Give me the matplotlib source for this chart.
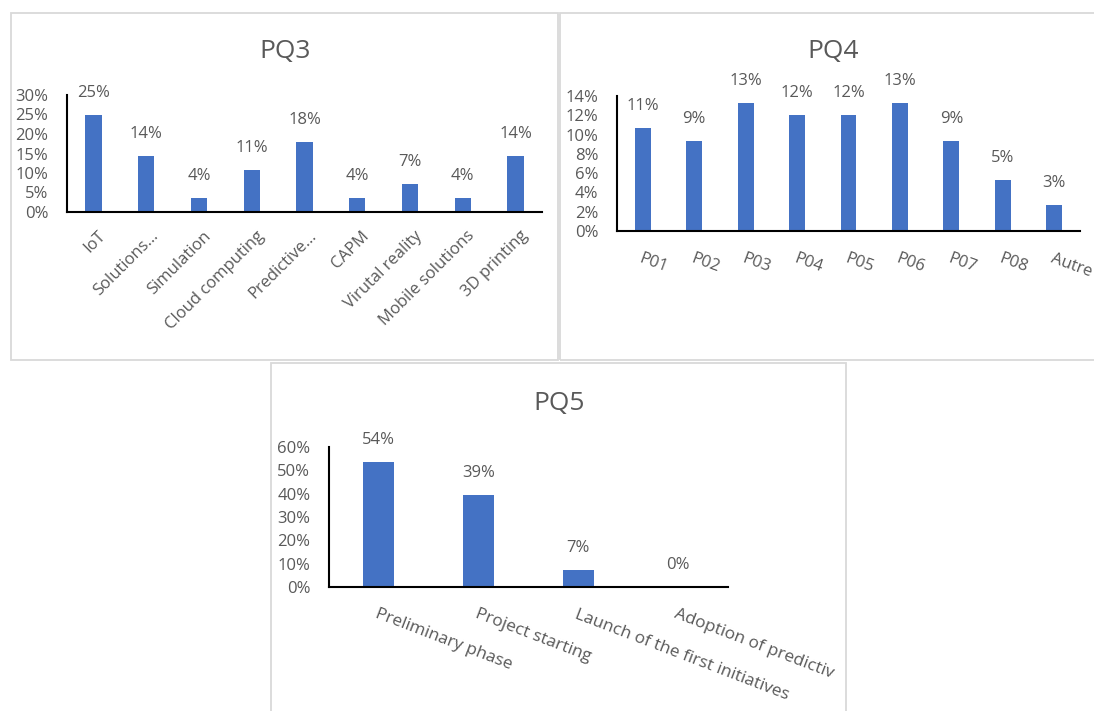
import matplotlib
matplotlib.use('Agg')
import matplotlib.pyplot as plt
from matplotlib.patches import Rectangle
from matplotlib.transforms import ScaledTranslation
from matplotlib.ticker import FuncFormatter, FixedLocator

plt.rcParams['font.family'] = ['Open Sans', 'DejaVu Sans']

# ---------------- data ----------------
pq3_categories = ["IoT", "Solutions…", "Simulation", "Cloud computing", "Predictive…",
                  "CAPM", "Virutal reality", "Mobile solutions", "3D printing"]
pq3_values = [0.250, 0.143, 0.036, 0.107, 0.179, 0.036, 0.071, 0.036, 0.143]

pq4_categories = ["P01", "P02", "P03", "P04", "P05", "P06", "P07", "P08", "Autre"]
pq4_values = [0.107, 0.093, 0.133, 0.120, 0.120, 0.133, 0.093, 0.053, 0.027]

pq5_categories = ["Preliminary phase", "Project starting",
                  "Launch of the first initiatives", "Adoption of predictiv"]
pq5_values = [0.536, 0.393, 0.071, 0.0]

titles = ["PQ3", "PQ4", "PQ5"]

# ---------------- layout ----------------
W, H = 1094, 711
fig = plt.figure(figsize=(W / 100, H / 100), dpi=100)

TEXT = '#595959'
BAR = '#4472C4'
BORDER = '#D9D9D9'
FS = 12


def fig_rect(x0, y0, x1, y1):
    return [x0 / W, 1 - y1 / H, (x1 - x0) / W, (y1 - y0) / H]


def border(x0, y0, x1, y1):
    r = Rectangle((x0 / W, 1 - y1 / H), (x1 - x0) / W, (y1 - y0) / H,
                  transform=fig.transFigure, fill=False, ec=BORDER, lw=1.3)
    fig.add_artist(r)


border(11, 13, 558, 360)
border(560, 13, 1120, 360)
border(271, 363, 846, 720)


def draw(rect, cats, vals, ymax, step, rot, ha, pad, dx, xfs):
    ax = fig.add_axes(rect)
    x = list(range(len(cats)))
    ax.bar(x, vals, width=0.31, color=BAR, zorder=2)
    ax.set_xlim(-0.5, len(cats) - 0.5)
    ax.set_ylim(0, ymax)
    n = int(round(ymax / step))
    ax.yaxis.set_major_locator(FixedLocator([round(i * step, 4) for i in range(n + 1)]))
    ax.yaxis.set_major_formatter(FuncFormatter(lambda v, p: f"{v * 100:.0f}%"))
    for s in ['top', 'right']:
        ax.spines[s].set_visible(False)
    for s in ['left', 'bottom']:
        ax.spines[s].set_color('black')
        ax.spines[s].set_linewidth(1.5)
    ax.tick_params(axis='y', length=0, pad=13.5, labelcolor=TEXT, labelsize=FS)
    ax.tick_params(axis='x', length=0, pad=pad, labelcolor=TEXT, labelsize=xfs)
    ax.set_xticks(x)
    ax.set_xticklabels(cats, rotation=rot, ha=ha, va='top', rotation_mode='anchor')
    off = ScaledTranslation(dx / 100, 0, fig.dpi_scale_trans)
    for lab in ax.get_xticklabels():
        lab.set_transform(lab.get_transform() + off)
    for xi, v in zip(x, vals):
        ax.annotate(f"{v * 100:.0f}%", (xi, v), xytext=(0, 15.8),
                    textcoords='offset points', ha='center', va='center',
                    color=TEXT, fontsize=FS)
    ax.set_facecolor('none')
    return ax


draw(fig_rect(67, 95, 542, 212), pq3_categories, pq3_values, 0.30, 0.05,
     45, 'right', 11.5, 4, 12)
draw(fig_rect(617, 96, 1080, 231), pq4_categories, pq4_values, 0.14, 0.02,
     -20, 'left', 14.4, 0, 12)
draw(fig_rect(329, 447, 728, 587), pq5_categories, pq5_values, 0.60, 0.10,
     -21, 'left', 14, 0, 12.4)

fig.text(285 / W, 1 - 52 / H, titles[0], ha='center', va='center', fontsize=19, color=TEXT)
fig.text(833 / W, 1 - 52 / H, titles[1], ha='center', va='center', fontsize=19, color=TEXT)
fig.text(559 / W, 1 - 403 / H, titles[2], ha='center', va='center', fontsize=19, color=TEXT)

fig.savefig('out.png', dpi=100, facecolor='white')
